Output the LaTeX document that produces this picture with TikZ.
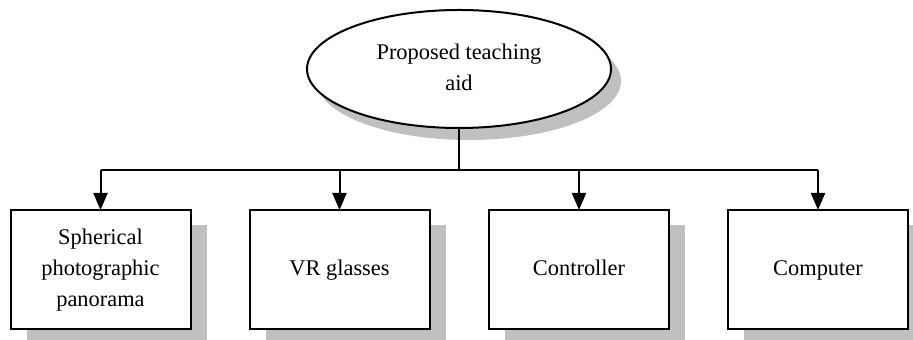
\documentclass[tikz,border=0pt]{standalone}
\usepackage{fontspec}
\setmainfont{Liberation Serif}
\usetikzlibrary{arrows.meta,shapes.geometric,shadows}
\definecolor{shadowgray}{RGB}{192,192,192}
\begin{document}
\begin{tikzpicture}[x=0.5pt,y=-0.5pt,
  txt/.style={align=center,font=\fontsize{11.2}{15.6}\selectfont},
  box/.style={txt,draw,line width=1pt,fill=white,minimum width=90pt,minimum height=59.5pt,inner sep=0pt,outer sep=0pt,
    drop shadow={shadow xshift=8pt,shadow yshift=-7.5pt,fill=shadowgray,opacity=1}},
  topnode/.style={txt,ellipse,draw,line width=1pt,fill=white,minimum width=152pt,minimum height=59pt,inner sep=0pt,outer sep=0pt,
    drop shadow={shadow xshift=5pt,shadow yshift=-6pt,fill=shadowgray,opacity=1}},
  conn/.style={line width=1pt},
  arr/.style={conn,-{Triangle[width=7pt,length=8.5pt]}}]
\clip (0,0) rectangle (913,340);
\useasboundingbox (0,0) rectangle (913,340);
\node[topnode] (top) at (459,69) {\strut Proposed teaching\\aid\strut};
\node[box] (b1) at (100.5,269.5) {\strut Spherical\\photographic\\panorama\strut};
\node[box] (b2) at (339.5,269.5) {\strut VR glasses\strut};
\node[box] (b3) at (579,269.5) {\strut Controller\strut};
\node[box] (b4) at (818,269.5) {\strut Computer\strut};
\path (top.south) ++(0,42) coordinate (j);
\draw[conn] (top.south) -- (j);
\draw[conn] (b1.north |- j) -- (b4.north |- j);
\draw[arr] (b1.north |- j) -- (b1.north);
\draw[arr] (b2.north |- j) -- (b2.north);
\draw[arr] (b3.north |- j) -- (b3.north);
\draw[arr] (b4.north |- j) -- (b4.north);
\end{tikzpicture}
\end{document}
